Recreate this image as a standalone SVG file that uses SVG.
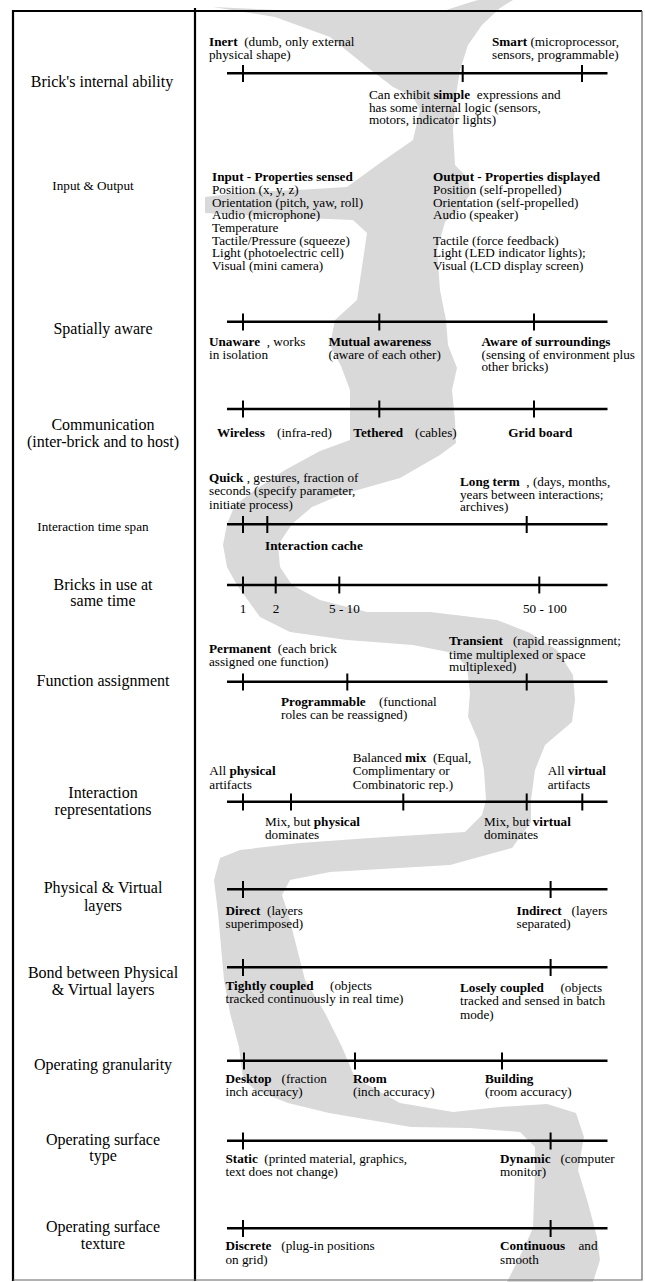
<svg xmlns="http://www.w3.org/2000/svg" width="645" height="1282" viewBox="0 0 645 1282" xml:space="preserve">
<style>
.t{font-family:"Liberation Serif","Times New Roman",serif;font-size:13.2px;fill:#000;white-space:pre}
.b{font-weight:bold}
.l{font-family:"Liberation Serif","Times New Roman",serif;font-size:16px;fill:#000;text-anchor:middle}
.ls{font-family:"Liberation Serif","Times New Roman",serif;font-size:13.2px;fill:#000;text-anchor:middle}
.c{text-anchor:middle}
.axis{stroke:#000;stroke-width:2.5;fill:none}
.tick{stroke:#000;stroke-width:2;fill:none}
</style>
<rect width="645" height="1282" fill="#fff"/>
<g id="river">
<path fill="#d9d9d9" d="M213,7 L300,11 L440,12 L468,3 L478,0 L513,0 L500,8 L482,25 L468,45 L460,70 L456,95 L453,130 L455,165 L468,178 L470,195 L460,208 L445,222 L437,250 L440,290 L446,320 L448,345 L457,368 L452,390 L455,420 L456,443 L440,455 L400,478 L340,495 L312,507 L292,524 L278,545 L280,567 L292,585 L320,600 L367,612 L430,612 L497,620 L530,633 L557,650 L573,675 L575,700 L572,722 L545,745 L535,770 L531,800 L531,822 L512,848 L450,865 L330,872 L290,880 L282,895 L288,913 L305,980 L325,1013 L342,1047 L355,1078 L400,1103 L453,1112 L500,1107 L547,1104 L576,1113 L584,1137 L578,1170 L588,1203 L597,1237 L600,1260 L593,1282 L507,1282 L523,1250 L533,1228 L535,1170 L535,1147 L520,1132 L470,1128 L411,1127 L329,1113 L288,1103 L255,1090 L243,1078 L239,1047 L230,1013 L224,980 L218,913 L214,880 L220,858 L240,850 L300,843 L370,838 L465,832 L482,815 L486,800 L484,770 L478,740 L468,717 L470,693 L467,667 L453,653 L413,645 L347,640 L290,632 L260,617 L237,585 L227,567 L223,545 L227,524 L235,505 L255,490 L285,470 L320,451 L350,440 L350,410 L350,390 L341,366 L330,345 L335,320 L357,300 L362,267 L367,233 L353,220 L280,217 L205,213 L205,197 L247,192 L297,190 L347,187 L380,163 L413,140 L420,110 L413,97 L393,87 L367,67 L330,37 L275,17 Z"/>
</g>
<g id="frame">
<path d="M13,11 H642" stroke="#000" stroke-width="2.2" fill="none"/>
<path d="M13,10 V1281" stroke="#000" stroke-width="2.2" fill="none"/>
<path d="M195,8 V1281" stroke="#000" stroke-width="2.2" fill="none"/>
<path d="M642,11 V1280 H13" stroke="#666" stroke-width="1.2" fill="none"/>
</g>
<g id="connectors"></g>
<g id="row-internal-ability">
<text class="l" x="102" y="87">Brick's internal ability</text>
<path class="axis" d="M227,73.3 H607.5"/>
<path class="tick" d="M243,65 v17 M462.7,65 v17 M582,65 v17"/>
<text class="t" x="209" y="46"><tspan class="b">Inert</tspan>  (dumb, only external</text>
<text class="t" x="209" y="58.5">physical shape)</text>
<text class="t" x="492" y="46"><tspan class="b">Smart</tspan> (microprocessor,</text>
<text class="t" x="492" y="58.5">sensors, programmable)</text>
<text class="t" x="369" y="99">Can exhibit <tspan class="b">simple</tspan>  expressions and</text>
<text class="t" x="369" y="111.5">has some internal logic (sensors,</text>
<text class="t" x="369" y="124">motors, indicator lights)</text>
</g>
<g id="row-input-output">
<text class="ls" x="93" y="189.5">Input &amp; Output</text>
<text class="t b" x="212" y="181.2">Input - Properties sensed</text>
<text class="t" x="212" y="193.9">Position (x, y, z)</text>
<text class="t" x="212" y="206.6">Orientation (pitch, yaw, roll)</text>
<text class="t" x="212" y="219.3">Audio (microphone)</text>
<text class="t" x="212" y="232">Temperature</text>
<text class="t" x="212" y="244.7">Tactile/Pressure (squeeze)</text>
<text class="t" x="212" y="257.4">Light (photoelectric cell)</text>
<text class="t" x="212" y="270.1">Visual (mini camera)</text>
<text class="t b" x="433" y="181.2">Output - Properties displayed</text>
<text class="t" x="433" y="193.9">Position (self-propelled)</text>
<text class="t" x="433" y="206.6">Orientation (self-propelled)</text>
<text class="t" x="433" y="219.3">Audio (speaker)</text>
<text class="t" x="433" y="244.7">Tactile (force feedback)</text>
<text class="t" x="433" y="257.4">Light (LED indicator lights);</text>
<text class="t" x="433" y="270.1">Visual (LCD display screen)</text>
</g>
<g id="row-spatially-aware">
<text class="l" x="103" y="334">Spatially aware</text>
<path class="axis" d="M227,321.7 H607.5"/>
<path class="tick" d="M243,313.5 v17 M379.3,313.5 v17 M534,313.5 v17"/>
<text class="t" x="209" y="346"><tspan class="b">Unaware</tspan>  , works</text>
<text class="t" x="209" y="358.5">in isolation</text>
<text class="t b" x="328.5" y="346">Mutual awareness</text>
<text class="t" x="328.5" y="358.5">(aware of each other)</text>
<text class="t b" x="481.5" y="346">Aware of surroundings</text>
<text class="t" x="481.5" y="358.5">(sensing of environment plus</text>
<text class="t" x="481.5" y="371">other bricks)</text>
</g>
<g id="row-communication">
<text class="l" x="103" y="429.5">Communication</text>
<text class="l" x="103" y="447">(inter-brick and to host)</text>
<path class="axis" d="M227,409 H607.5"/>
<path class="tick" d="M243,400.5 v17 M379.3,400.5 v17 M534,400.5 v17"/>
<text class="t b" x="217" y="437">Wireless</text>
<text class="t" x="277" y="437">(infra-red)</text>
<text class="t b" x="353.3" y="437">Tethered</text>
<text class="t" x="415" y="437">(cables)</text>
<text class="t b" x="508.3" y="437">Grid board</text>
</g>
<g id="row-time-span">
<text class="ls" x="93" y="531">Interaction time span</text>
<path class="axis" d="M227,524.3 H607.5"/>
<path class="tick" d="M243,516 v17 M267.3,516 v17 M526.7,516 v17"/>
<text class="t" x="209" y="482"><tspan class="b">Quick</tspan> , gestures, fraction of</text>
<text class="t" x="209" y="495">seconds (specify parameter,</text>
<text class="t" x="209" y="508.5">initiate process)</text>
<text class="t" x="460" y="485.5"><tspan class="b">Long term</tspan>  , (days, months,</text>
<text class="t" x="460" y="498.5">years between interactions;</text>
<text class="t" x="460" y="511">archives)</text>
<text class="t b" x="265" y="549.5">Interaction cache</text>
</g>
<g id="row-bricks-in-use">
<text class="l" x="103" y="589.5">Bricks in use at</text>
<text class="l" x="103" y="606">same time</text>
<path class="axis" d="M227,585 H607.5"/>
<path class="tick" d="M243,576.5 v17 M275.7,576.5 v17 M339.3,576.5 v17 M539.3,576.5 v17"/>
<text class="t c" x="243" y="612.5">1</text>
<text class="t c" x="276" y="612.5">2</text>
<text class="t" x="329" y="612.5">5 - 10</text>
<text class="t" x="523" y="612.5">50 - 100</text>
</g>
<g id="row-function-assignment">
<text class="l" x="103" y="685.5">Function assignment</text>
<path class="axis" d="M227,681.7 H607.5"/>
<path class="tick" d="M243,673.5 v17 M347.3,673.5 v17 M526.7,673.5 v17"/>
<text class="t" x="209" y="653"><tspan class="b">Permanent</tspan>  (each brick</text>
<text class="t" x="209" y="666">assigned one function)</text>
<text class="t" x="449" y="645"><tspan class="b">Transient</tspan>   (rapid reassignment;</text>
<text class="t" x="449" y="658.5">time multiplexed or space</text>
<text class="t" x="449" y="671">multiplexed)</text>
<text class="t" x="281" y="706"><tspan class="b">Programmable</tspan>    (functional</text>
<text class="t" x="281" y="719">roles can be reassigned)</text>
</g>
<g id="row-representations">
<text class="l" x="103" y="797.5">Interaction</text>
<text class="l" x="103" y="815">representations</text>
<path class="axis" d="M227,801.7 H607.5"/>
<path class="tick" d="M243,793.5 v17 M291,793.5 v17 M403.3,793.5 v17 M526.7,793.5 v17 M582.3,793.5 v17"/>
<text class="t" x="352.7" y="762">Balanced <tspan class="b">mix</tspan>  (Equal,</text>
<text class="t" x="352.7" y="775">Complimentary or</text>
<text class="t" x="352.7" y="789">Combinatoric rep.)</text>
<text class="t" x="209.3" y="775">All <tspan class="b">physical</tspan></text>
<text class="t" x="209.3" y="789">artifacts</text>
<text class="t" x="547.7" y="775">All <tspan class="b">virtual</tspan></text>
<text class="t" x="547.7" y="789">artifacts</text>
<text class="t" x="265" y="826">Mix, but <tspan class="b">physical</tspan></text>
<text class="t" x="265" y="838.5">dominates</text>
<text class="t" x="484" y="826">Mix, but <tspan class="b">virtual</tspan></text>
<text class="t" x="484" y="838.5">dominates</text>
</g>
<g id="row-layers">
<text class="l" x="103" y="893">Physical &amp; Virtual</text>
<text class="l" x="103" y="911">layers</text>
<path class="axis" d="M227,889.3 H607.5"/>
<path class="tick" d="M243,881 v17 M550.6,881 v17"/>
<text class="t" x="225.5" y="914.5"><tspan class="b">Direct</tspan>  (layers</text>
<text class="t" x="225.5" y="928">superimposed)</text>
<text class="t" x="516.5" y="914.5"><tspan class="b">Indirect</tspan>   (layers</text>
<text class="t" x="516.5" y="928">separated)</text>
</g>
<g id="row-bond">
<text class="l" x="103" y="978">Bond between Physical</text>
<text class="l" x="103" y="995">&amp; Virtual layers</text>
<path class="axis" d="M227,967.3 H607.5"/>
<path class="tick" d="M243,959 v17 M550.6,959 v17"/>
<text class="t" x="225.5" y="989.5"><tspan class="b">Tightly coupled</tspan>     (objects</text>
<text class="t" x="225.5" y="1003">tracked continuously in real time)</text>
<text class="t" x="460" y="992"><tspan class="b">Losely coupled</tspan>     (objects</text>
<text class="t" x="460" y="1005">tracked and sensed in batch</text>
<text class="t" x="460" y="1019">mode)</text>
</g>
<g id="row-granularity">
<text class="l" x="103" y="1069.5">Operating granularity</text>
<path class="axis" d="M227,1060.7 H607.5"/>
<path class="tick" d="M244,1052.5 v17 M355,1052.5 v17 M502,1052.5 v17"/>
<text class="t" x="225.5" y="1083"><tspan class="b">Desktop</tspan>   (fraction</text>
<text class="t" x="225.5" y="1095.5">inch accuracy)</text>
<text class="t b" x="353" y="1083">Room</text>
<text class="t" x="353" y="1095.5">(inch accuracy)</text>
<text class="t b" x="485" y="1083">Building</text>
<text class="t" x="485" y="1095.5">(room accuracy)</text>
</g>
<g id="row-surface-type">
<text class="l" x="103" y="1144.5">Operating surface</text>
<text class="l" x="103" y="1161">type</text>
<path class="axis" d="M227,1140.7 H607.5"/>
<path class="tick" d="M243,1132.5 v17 M550.6,1132.5 v17"/>
<text class="t" x="225.5" y="1163"><tspan class="b">Static</tspan>  (printed material, graphics,</text>
<text class="t" x="225.5" y="1175.5">text does not change)</text>
<text class="t" x="500" y="1163"><tspan class="b">Dynamic</tspan>   (computer</text>
<text class="t" x="500" y="1175.5">monitor)</text>
</g>
<g id="row-surface-texture">
<text class="l" x="103" y="1232">Operating surface</text>
<text class="l" x="103" y="1249">texture</text>
<path class="axis" d="M227,1228.3 H607.5"/>
<path class="tick" d="M243,1220 v17 M550.6,1220 v17"/>
<text class="t" x="225.5" y="1250"><tspan class="b">Discrete</tspan>   (plug-in positions</text>
<text class="t" x="225.5" y="1263.5">on grid)</text>
<text class="t" x="500" y="1250"><tspan class="b">Continuous</tspan>    and</text>
<text class="t" x="500" y="1263.5">smooth</text>
</g>
</svg>
